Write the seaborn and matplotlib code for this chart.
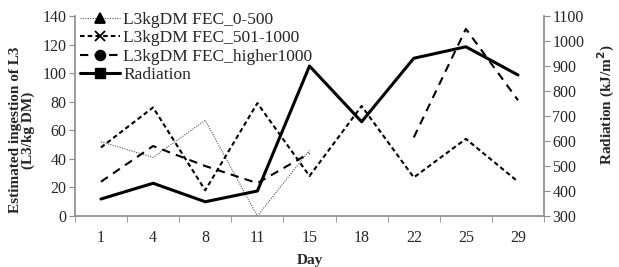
import numpy as np
import pandas as pd
import matplotlib
matplotlib.use("Agg")
import matplotlib.pyplot as plt
import seaborn as sns
from matplotlib.lines import Line2D

days = ["1", "4", "8", "11", "15", "18", "22", "25", "29"]
fec_0_500 = [52, 41, 67, 0, 46, np.nan, np.nan, np.nan, np.nan]
fec_501_1000 = [48, 76, 18, 79, 28, 77, 27, 54, 24]
fec_higher1000 = [24, 49, 35, 23, 44, np.nan, 55, 131, 81]
radiation = [368, 431, 357, 400, 900, 677, 931, 977, 864]

sns.set_style("white")
plt.rcParams["font.family"] = ["Liberation Serif", "DejaVu Serif"]

fig = plt.figure(figsize=(6.19, 2.67), dpi=100)
ax = fig.add_axes([0.121, 0.191, 0.758, 0.749])
ax2 = ax.twinx()

pos = np.arange(len(days))
grey = "#8c8c8c"

styles = {
    "L3kgDM FEC_0-500": dict(color="#555555", lw=0.8, dashes=(1, 1.2), marker="^"),
    "L3kgDM FEC_501-1000": dict(color="black", lw=1.5, dashes=(2.2, 1.5), marker="x"),
    "L3kgDM FEC_higher1000": dict(color="black", lw=1.5, dashes=(4, 3), marker="o"),
}
series = {
    "L3kgDM FEC_0-500": fec_0_500,
    "L3kgDM FEC_501-1000": fec_501_1000,
    "L3kgDM FEC_higher1000": fec_higher1000,
}


def segments(vals):
    # split a series at missing values so gaps stay open
    df = pd.DataFrame({"x": pos, "y": vals})
    df["seg"] = df["y"].isna().cumsum()
    df = df.dropna()
    return [g for _, g in df.groupby("seg")]


for name, vals in series.items():
    st = styles[name]
    for g in segments(vals):
        sns.lineplot(x=g["x"], y=g["y"], ax=ax, color=st["color"], lw=st["lw"],
                     estimator=None)
        ax.lines[-1].set_dashes(st["dashes"])

sns.lineplot(x=pos, y=radiation, ax=ax2, color="black", lw=2.2, estimator=None)

ax.set_xlim(-0.5, len(days) - 0.5)
ax.set_ylim(0, 140)
ax.set_yticks(range(0, 141, 20))
ax2.set_ylim(300, 1100)
ax2.set_yticks(range(300, 1101, 100))

ax.set_xticks(pos)
ax.set_xticklabels(days)
ax.set_xticks(np.arange(-0.5, len(days) + 0.5, 1), minor=True)
ax.tick_params(axis="x", which="major", length=0, pad=10, labelsize=11.5)
ax.tick_params(axis="x", which="minor", length=4, color=grey, direction="out", bottom=True)
ax.tick_params(axis="y", length=4, color=grey, direction="out", left=True, labelsize=11.5, pad=2)
ax2.tick_params(axis="y", length=4, color=grey, direction="out", right=True, labelsize=11.5, pad=2)

for a in (ax, ax2):
    for s in a.spines.values():
        s.set_color(grey)
        s.set_linewidth(1.2)
    a.spines["top"].set_visible(False)
ax.spines["right"].set_visible(False)
ax2.spines["left"].set_visible(False)
ax2.spines["bottom"].set_visible(False)

ax.set_xlabel("Day", fontweight="bold", fontsize=11, labelpad=6)
ax.set_ylabel("Estimated ingestion of L3\n(L3/kg DM)", fontweight="bold", fontsize=11,
              linespacing=1.0)
ax.yaxis.set_label_coords(-0.085, 0.43)
ax2.set_ylabel("Radiation (kJ/m$^\\mathbf{2}$)", fontweight="bold", fontsize=11,
               rotation=90)
ax2.yaxis.set_label_coords(1.11, 0.555)

handles = []
for name, st in styles.items():
    handles.append(Line2D([], [], color="black" if st["lw"] > 1 else "#555555",
                          lw=st["lw"], dashes=st["dashes"], marker=st["marker"],
                          markersize=7, markerfacecolor="black", markeredgecolor="black",
                          markeredgewidth=1.3))
handles.append(Line2D([], [], color="black", lw=2.2, marker="s", markersize=7))
labels = list(styles.keys()) + ["Radiation"]
ax.legend(handles, labels, loc="upper left", bbox_to_anchor=(0.129, 0.955),
          bbox_transform=fig.transFigure, frameon=False, fontsize=12.5,
          handlelength=2.3, handletextpad=0.2, labelspacing=0.12, borderpad=0,
          borderaxespad=0, numpoints=1)

fig.savefig("out.png", dpi=100)
